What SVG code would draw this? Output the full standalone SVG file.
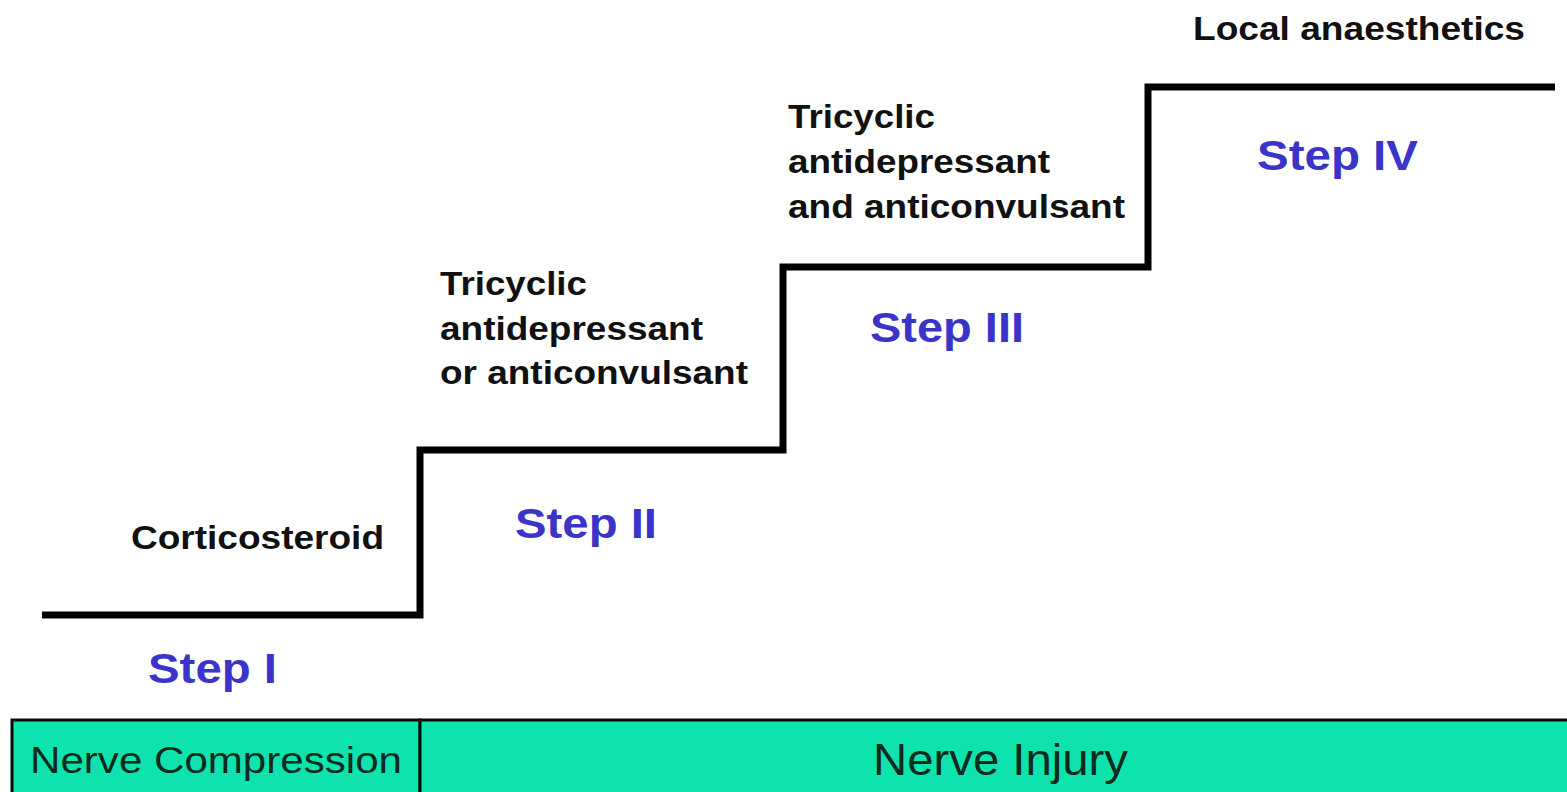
<svg xmlns="http://www.w3.org/2000/svg" width="1567" height="792" viewBox="0 0 1567 792">
<style>
.lbl{font-family:"Liberation Sans",Arial,sans-serif;font-weight:bold;font-size:33px;fill:#111}
.step{font-family:"Liberation Sans",Arial,sans-serif;font-weight:bold;font-size:42px;fill:#3b34c8}
.box{fill:#0fe3ad;stroke:#0a0a0a;stroke-width:3}
.boxtxt{font-family:"Liberation Sans",Arial,sans-serif;fill:#0d2a1e}
</style>
<rect width="1567" height="792" fill="#ffffff"/>
<g id="connectors">
<polyline points="42,615 420,615 420,450 783,450 783,267 1148,267 1148,87 1555,87" fill="none" stroke="#000" stroke-width="7" stroke-linejoin="miter"/>
</g>
<g id="step1">
<text class="lbl" x="131" y="549" textLength="253" lengthAdjust="spacingAndGlyphs">Corticosteroid</text>
<text class="step" x="148" y="683" textLength="129" lengthAdjust="spacingAndGlyphs">Step I</text>
</g>
<g id="step2">
<text class="lbl" x="440" y="295" textLength="147" lengthAdjust="spacingAndGlyphs">Tricyclic</text>
<text class="lbl" x="440" y="340" textLength="263" lengthAdjust="spacingAndGlyphs">antidepressant</text>
<text class="lbl" x="440" y="384" textLength="308" lengthAdjust="spacingAndGlyphs">or anticonvulsant</text>
<text class="step" x="515" y="538" textLength="142" lengthAdjust="spacingAndGlyphs">Step II</text>
</g>
<g id="step3">
<text class="lbl" x="788" y="128" textLength="147" lengthAdjust="spacingAndGlyphs">Tricyclic</text>
<text class="lbl" x="788" y="173" textLength="262" lengthAdjust="spacingAndGlyphs">antidepressant</text>
<text class="lbl" x="788" y="218" textLength="337" lengthAdjust="spacingAndGlyphs">and anticonvulsant</text>
<text class="step" x="870" y="342" textLength="154" lengthAdjust="spacingAndGlyphs">Step III</text>
</g>
<g id="step4">
<text class="lbl" x="1193" y="40" textLength="332" lengthAdjust="spacingAndGlyphs">Local anaesthetics</text>
<text class="step" x="1257" y="170" textLength="161" lengthAdjust="spacingAndGlyphs">Step IV</text>
</g>
<g id="nerve-compression">
<rect class="box" x="12" y="720" width="408" height="80"/>
<text class="boxtxt" x="30" y="773" font-size="37" textLength="372" lengthAdjust="spacingAndGlyphs">Nerve Compression</text>
</g>
<g id="nerve-injury">
<rect class="box" x="420" y="720" width="1160" height="80"/>
<text class="boxtxt" x="873" y="775" font-size="44" textLength="255" lengthAdjust="spacingAndGlyphs">Nerve Injury</text>
</g>
</svg>
